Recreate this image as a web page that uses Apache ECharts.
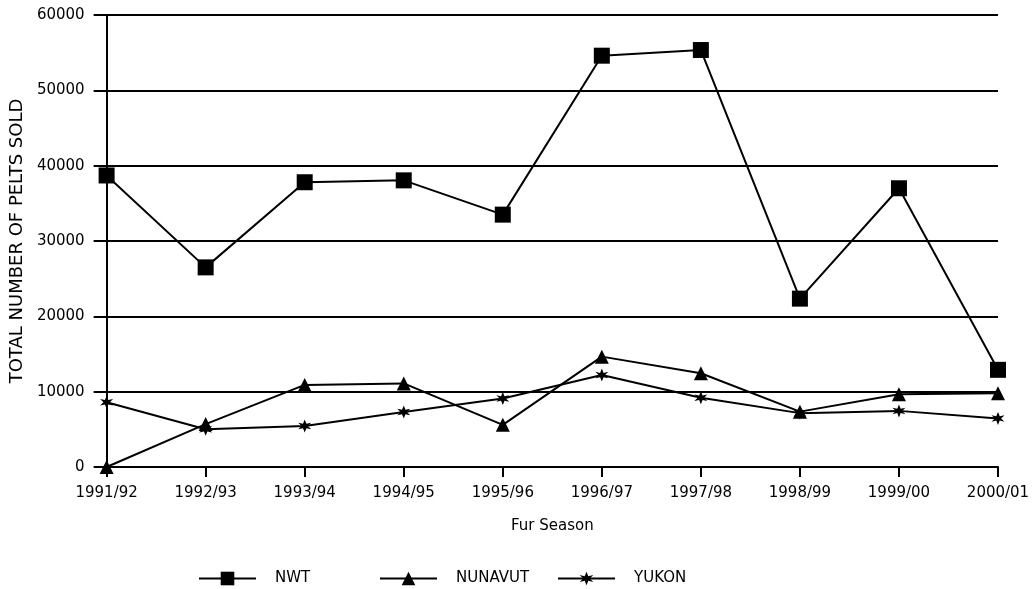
<!DOCTYPE html>
<html>
<head>
<meta charset="utf-8">
<script src="https://cdn.jsdelivr.net/npm/echarts@6/dist/echarts.min.js"></script>
<style>
  html, body { margin: 0; padding: 0; background: #fff; }
  #chart { width: 1035px; height: 589px; }
</style>
</head>
<body>
<div id="chart"></div>
<script>
const seasons = ["1991/92", "1992/93", "1993/94", "1994/95", "1995/96", "1996/97", "1997/98", "1998/99", "1999/00", "2000/01"]
const nwt = [38700, 26500, 37800, 38050, 33500, 54600, 55350, 22350, 37000, 12900]
const nunavut = [0, 5700, 10900, 11100, 5600, 14650, 12450, 7350, 9650, 9800]
const yukon = [8600, 5000, 5450, 7300, 9100, 12200, 9200, 7150, 7450, 6450]

const starPath = "path://M5,0 L6.2,3.3 L9.5,2.5 L7.2,5 L9.5,7.5 L6.2,6.7 L5,10 L3.8,6.7 L0.5,7.5 L2.8,5 L0.5,2.5 L3.8,3.3 Z"
const font = "DejaVu Sans"

const chart = echarts.init(document.getElementById("chart"))

function legendFor(name, left) {
  return {
    left: left,
    top: 566,
    itemWidth: 57,
    itemHeight: 17,
    data: [name],
    textStyle: { fontFamily: font, fontSize: 15, color: "#000", padding: [0, 0, 0, 14] }
  }
}

const lineSeries = (name, data, symbol, size) => ({
  name: name,
  type: "line",
  data: data,
  symbol: symbol,
  symbolSize: size,
  showAllSymbol: true,
  lineStyle: { color: "#000", width: 2 },
  itemStyle: { color: "#000" },
  emphasis: { disabled: true },
  animation: false
})

chart.setOption({
  backgroundColor: "#fff",
  grid: { left: 104, right: 37, top: 15, bottom: 122 },
  legend: [
    legendFor("NWT", 193),
    legendFor("NUNAVUT", 374),
    legendFor("YUKON", 552)
  ],
  xAxis: {
    type: "category",
    data: seasons,
    boundaryGap: false,
    name: "Fur Season",
    nameLocation: "middle",
    nameGap: 52,
    nameTextStyle: { fontFamily: font, fontSize: 15, color: "#000" },
    axisLine: { lineStyle: { color: "#000", width: 2 } },
    axisTick: { show: true, length: 10, lineStyle: { color: "#000", width: 2 } },
    axisLabel: { fontFamily: font, fontSize: 15, color: "#000", margin: 19, showMaxLabel: true, showMinLabel: true, interval: 0 }
  },
  yAxis: {
    type: "value",
    min: 0,
    max: 60000,
    interval: 10000,
    name: "TOTAL NUMBER OF PELTS SOLD",
    nameLocation: "middle",
    nameRotate: 90,
    nameGap: 78,
    nameTextStyle: { fontFamily: font, fontSize: 18, color: "#000" },
    axisLine: { show: true, lineStyle: { color: "#000", width: 2 } },
    axisTick: { show: true, length: 13, lineStyle: { color: "#000", width: 2 } },
    axisLabel: { fontFamily: font, fontSize: 15, color: "#000", margin: 22, formatter: v => String(v) },
    splitLine: { show: true, lineStyle: { color: "#000", width: 2 } }
  },
  series: [
    lineSeries("NWT", nwt, "rect", 16),
    lineSeries("NUNAVUT", nunavut, "triangle", 14),
    lineSeries("YUKON", yukon, starPath, 13)
  ]
})
</script>
</body>
</html>
